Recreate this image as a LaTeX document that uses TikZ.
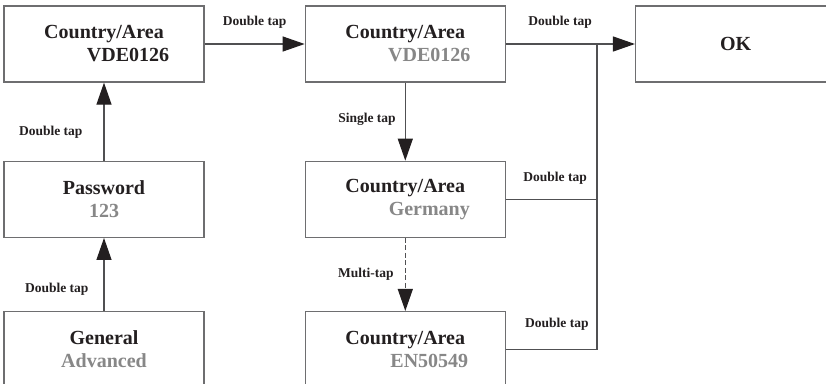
\documentclass[tikz,border=0pt]{standalone}
\usepackage{fontspec}
\setmainfont{Liberation Serif}
\usepackage{xcolor}
\usetikzlibrary{positioning,arrows.meta,calc}
\definecolor{ink}{RGB}{35,31,32}
\definecolor{valgray}{RGB}{135,135,135}
\definecolor{framegray}{RGB}{110,110,112}
\definecolor{linegray}{RGB}{80,80,82}
\tikzset{
  menu/.style={draw=framegray, fill=white, line width=1.3pt, minimum width=200pt,
    minimum height=76pt, align=center, inner sep=0pt, text=ink,
    font=\fontsize{20}{23}\selectfont\bfseries},
  lbl/.style={inner sep=0pt, text=ink, font=\fontsize{13.5}{15}\selectfont\bfseries},
  go/.style={-{Triangle[length=22pt,width=15pt,color=ink]}, line width=1.2pt, draw=linegray},
  wire/.style={line width=1.2pt, draw=linegray},
}
\newcommand{\areatxt}[2]{Country/Area\\\hspace*{48pt}\textcolor{#1}{#2}}

\begin{document}
\begin{tikzpicture}[x=1pt, y=-1pt, node distance=78pt and 100pt]
  \useasboundingbox (0,0) rectangle (826,383);
  \clip (0,0) rectangle (826,383);
  \node[menu] (vde) at (104,44) {\areatxt{ink}{VDE0126}};
  \node[menu, below=of vde] (pwd) {Password\\\textcolor{valgray}{123}};
  \node[menu, below=73pt of pwd] (gen) {General\\\textcolor{valgray}{Advanced}};
  \node[menu, right=of vde] (sel) {\areatxt{valgray}{VDE0126}};
  \node[menu, below=of sel] (ger) {\areatxt{valgray}{Germany}};
  \node[menu, below=73pt of ger] (en) {\areatxt{valgray}{EN50549}};
  \node[menu, right=129pt of sel] (ok) {OK};
  \coordinate (jn) at ($(sel.east)!0.705!(ok.west)$);
  % left column
  \draw[go] (gen) -- node[lbl, pos=0.3, left=15pt] {Double tap} (pwd);
  \draw[go] (pwd) -- node[lbl, pos=0.36, left=21pt] {Double tap} (vde);
  \draw[go] (vde) -- node[lbl, midway, above=15pt] {Double tap} (sel);
  % middle column
  \draw[go] (sel) -- node[lbl, pos=0.47, left=9pt] {Single tap} (ger);
  \draw[go, dash pattern=on 5pt off 2.5pt] (ger) -- node[lbl, pos=0.5, left=11pt] {Multi-tap} (en);
  \draw[go] (sel) -- node[lbl, pos=0.42, above=15pt] {Double tap} (ok);
  \draw[wire] (ger.east) -| node[lbl, pos=0.27, above=14pt] {Double tap} (jn);
  \draw[wire] (en.east) -| node[lbl, pos=0.28, above=19pt] {Double tap} (jn);
\end{tikzpicture}
\end{document}
